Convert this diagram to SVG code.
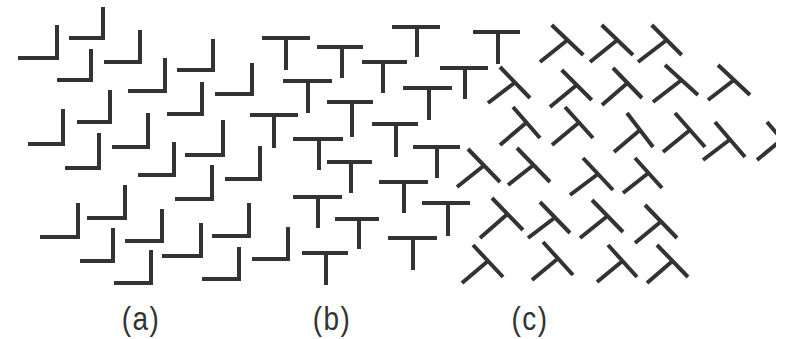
<svg xmlns="http://www.w3.org/2000/svg" width="785" height="339" viewBox="0 0 785 339">
<style>
.s{fill:none;stroke:#333;stroke-width:4;stroke-linecap:butt;stroke-linejoin:miter}
.lbl{font-family:"Liberation Sans",Arial,sans-serif;font-size:28px;fill:#333;text-anchor:middle;letter-spacing:1.5px}
</style>
<defs><clipPath id="edge"><rect x="0" y="0" width="776" height="339"/></clipPath></defs>
<rect width="785" height="339" fill="#fff"/>
<g id="panel-a">
<g id="L1"><path class="s" d="M18 58H57V25"/></g>
<g id="L2"><path class="s" d="M69 38H103V7"/></g>
<g id="L3"><path class="s" d="M104 62H140V30"/></g>
<g id="L4"><path class="s" d="M57 80H91V49"/></g>
<g id="L5"><path class="s" d="M128 91H165V58"/></g>
<g id="L6"><path class="s" d="M177 70H213V39"/></g>
<g id="L7"><path class="s" d="M215 94H252V63"/></g>
<g id="L8"><path class="s" d="M77 122H110V90"/></g>
<g id="L9"><path class="s" d="M167 114H202V82"/></g>
<g id="L10"><path class="s" d="M28 144H63V109"/></g>
<g id="L11"><path class="s" d="M112 147H148V113"/></g>
<g id="L12"><path class="s" d="M65 168H99V133"/></g>
<g id="L13"><path class="s" d="M138 175H174V142"/></g>
<g id="L14"><path class="s" d="M185 155H223V120"/></g>
<g id="L15"><path class="s" d="M225 179H260V146"/></g>
<g id="L16"><path class="s" d="M87 218H125V185"/></g>
<g id="L17"><path class="s" d="M175 199H212V165"/></g>
<g id="L18"><path class="s" d="M40 237H78V203"/></g>
<g id="L19"><path class="s" d="M125 241H162V209"/></g>
<g id="L20"><path class="s" d="M212 236H249V203"/></g>
<g id="L21"><path class="s" d="M80 261H113V228"/></g>
<g id="L22"><path class="s" d="M162 256H201V223"/></g>
<g id="L23"><path class="s" d="M114 283H151V250"/></g>
<g id="L24"><path class="s" d="M202 279H239V247"/></g>
<g id="L25"><path class="s" d="M252 259H288V227"/></g>
</g>
<g id="panel-b">
<g id="T1"><path class="s" d="M262 38H310M286 38V70"/></g>
<g id="T2"><path class="s" d="M317 47H363M342 47V78"/></g>
<g id="T3"><path class="s" d="M392 27H440M417 27V57"/></g>
<g id="T4"><path class="s" d="M362 62H407M383 62V93"/></g>
<g id="T5"><path class="s" d="M473 32H520M498 32V64"/></g>
<g id="T6"><path class="s" d="M440 68H488M465 68V99"/></g>
<g id="T7"><path class="s" d="M283 81H332M308 81V113"/></g>
<g id="T8"><path class="s" d="M403 88H452M429 88V120"/></g>
<g id="T9"><path class="s" d="M327 102H373M352 102V137"/></g>
<g id="T10"><path class="s" d="M250 115H298M274 115V148"/></g>
<g id="T11"><path class="s" d="M372 124H418M396 124V157"/></g>
<g id="T12"><path class="s" d="M293 139H343M319 139V170"/></g>
<g id="T13"><path class="s" d="M413 147H460M437 147V178"/></g>
<g id="T14"><path class="s" d="M327 162H372M351 162V193"/></g>
<g id="T15"><path class="s" d="M379 182H428M404 182V213"/></g>
<g id="T16"><path class="s" d="M293 197H342M318 197V228"/></g>
<g id="T17"><path class="s" d="M422 203H470M448 203V236"/></g>
<g id="T18"><path class="s" d="M335 219H379M359 219V249"/></g>
<g id="T19"><path class="s" d="M388 238H437M413 238V270"/></g>
<g id="T20"><path class="s" d="M302 253H348M326 253V285"/></g>
</g>
<g id="panel-c">
<g id="R1"><path class="s" d="M551.7 25L583.3 55M567.5 40L540 62"/></g>
<g id="R2"><path class="s" d="M601.7 25L633 55M617.3 40L590 62"/></g>
<g id="R3"><path class="s" d="M651.7 25L681.7 55M666.7 40L638 62"/></g>
<g id="R4"><path class="s" d="M500 67L530 98M515 82.5L488 103"/></g>
<g id="R5"><path class="s" d="M561.7 70L591.7 100M576.7 85L550 107"/></g>
<g id="R6"><path class="s" d="M613 68L642 98M627.5 83L602 105"/></g>
<g id="R7"><path class="s" d="M665 65L698 95M681.5 80L653 102"/></g>
<g id="R8"><path class="s" d="M718 65L750 95M734 80L708 100"/></g>
<g id="R9"><path class="s" d="M513 107L540 138M526.5 122.5L500 145"/></g>
<g id="R10"><path class="s" d="M565 107L593 138M579 122.5L552 145"/></g>
<g id="R11"><path class="s" d="M627 113L653 147M640 130L614 152"/></g>
<g id="R12"><path class="s" d="M675 113L705 147M690 130L663 152"/></g>
<g id="R13"><path class="s" d="M715 122L745 157M730 139.5L703 160"/></g>
<g id="R14" clip-path="url(#edge)"><path class="s" d="M767 122L797 157M782 139.5L757 160"/></g>
<g id="R15"><path class="s" d="M468 149L500 182M484 165.5L457 187"/></g>
<g id="R16"><path class="s" d="M517 148L550 182M533.5 165L508 185"/></g>
<g id="R17"><path class="s" d="M583 158L613 190M598 174L570 195"/></g>
<g id="R18"><path class="s" d="M635 158L662 188M648.5 173L623 193"/></g>
<g id="R19"><path class="s" d="M492 198L523 230M507.5 214L480 238"/></g>
<g id="R20"><path class="s" d="M540 202L570 233M555 217.5L528 238"/></g>
<g id="R21"><path class="s" d="M592 200L623 232M607.5 216L580 238"/></g>
<g id="R22"><path class="s" d="M645 205L677 238M661 221.5L635 243"/></g>
<g id="R23"><path class="s" d="M473 245L503 277M488 261L462 283"/></g>
<g id="R24"><path class="s" d="M543 242L573 275M558 258.5L532 280"/></g>
<g id="R25"><path class="s" d="M608 245L637 277M622.5 261L597 282"/></g>
<g id="R26"><path class="s" d="M657 245L688 277M672.5 261L647 283"/></g>
</g>
<g id="labels">
<text class="lbl" transform="translate(141,330) scale(1,1.18)">(a)</text>
<text class="lbl" transform="translate(332,330) scale(1,1.18)">(b)</text>
<text class="lbl" transform="translate(530,330) scale(1,1.18)">(c)</text>
</g>
</svg>
